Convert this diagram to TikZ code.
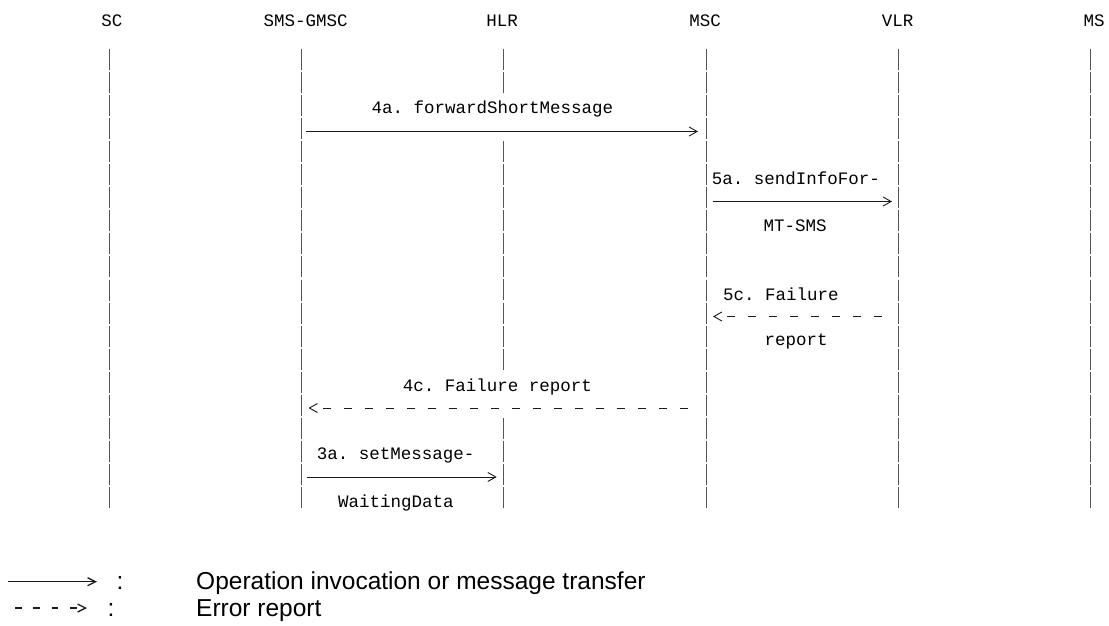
\documentclass[tikz,border=0pt]{standalone}
\usepackage{fontspec}
\setmainfont{Liberation Sans}
\setmonofont{Liberation Mono}
\usetikzlibrary{arrows.meta}
\definecolor{lifegray}{HTML}{555555}
\definecolor{msgblack}{HTML}{1a1a1a}

\begin{document}
\begin{tikzpicture}[x=1pt, y=-1pt,
		entity/.style={font=\ttfamily\fontsize{17.5}{20}\selectfont, inner sep=0pt, anchor=base},
		msgtext/.style={font=\ttfamily\fontsize{17.5}{20}\selectfont, inner sep=0pt, anchor=base},
		legtext/.style={font=\fontsize{24.5}{28}\selectfont, inner sep=0pt, anchor=base west},
		life/.style={color=lifegray, line width=0.9pt, dash pattern=on 21pt off 2.06pt},
		invoke/.style={color=msgblack, line width=0.9pt, -{Straight Barb[length=8pt,width=9pt]}},
		errrep/.style={color=msgblack, line width=0.9pt, dash pattern=on 8pt off 13pt, dash phase=8pt, {Straight Barb[length=8pt,width=9pt]}-}]
		\useasboundingbox (0,0) rectangle (1109,626);
		% entities and their lifelines
		\foreach \name/\lx/\hx/\txt in {SC/109/112/SC, GMSC/301.5/305.6/SMS-GMSC, HLR/503.3/502/HLR, MSC/706.7/705/MSC, VLR/898/897.5/VLR, MS/1090/1094/MS} {
			\node[entity] (\name) at (\hx,27) {\txt};
			\coordinate (\name-a) at (\lx,48.9);
			\coordinate (\name-b) at (\lx,510.1);
		}
		\foreach \name in {SC,GMSC,MSC,VLR,MS}
			\draw[life] (\name-a) -- (\name-b);
		\draw[life] (HLR-a) -- ++(0,46.1);
		\draw[life] (HLR-a) ++(0,92.2) -- ++(0,230.6);
		\draw[life] (HLR-a) ++(0,369) -- (HLR-b);
		% rows of the messages
		\coordinate (r4)  at (0,131.5);
		\coordinate (r7)  at (0,201.5);
		\coordinate (r12) at (0,316.5);
		\coordinate (r16) at (0,408);
		\coordinate (r19) at (0,477);
		% 4a
		\node[msgtext] (m4a) at (492.5,113.5) {4a. forwardShortMessage};
		\draw[invoke, shorten <=4pt, shorten >=8.7pt] (GMSC-a |- r4) -- (MSC-a |- r4);
		% 5a
		\node[msgtext] (m5a) at (796,184.5) {5a. sendInfoFor-};
		\draw[invoke, shorten <=6pt, shorten >=6pt] (MSC-a |- r7) -- (VLR-a |- r7);
		\node[msgtext] (m5b) at (795,231.5) {MT-SMS};
		% 5c
		\node[msgtext] (m5c) at (781,300.5) {5c. Failure};
		\draw[errrep, shorten <=6.3pt, shorten >=16pt] (MSC-a |- r12) -- (VLR-a |- r12);
		\node[msgtext] (m5d) at (796,345.5) {report};
		% 4c
		\node[msgtext] (m4c) at (497.5,391.5) {4c. Failure report};
		\draw[errrep, shorten <=7pt, shorten >=18pt] (GMSC-a |- r16) -- (MSC-a |- r16);
		% 3a
		\node[msgtext] (m3a) at (395.7,459.5) {3a. setMessage-};
		\draw[invoke, shorten <=5pt, shorten >=6.6pt] (GMSC-a |- r19) -- (HLR-a |- r19);
		\node[msgtext] (m3b) at (395.8,507.5) {WaitingData};
		% legend
		\coordinate (leg1a) at (8,581.7);
		\coordinate (leg1b) at (97,581.7);
		\coordinate (leg2a) at (15,608);
		\coordinate (leg2b) at (87,608);
		\draw[color=msgblack, line width=1.3pt, -{Straight Barb[length=8pt,width=8pt]}] (leg1a) -- (leg1b);
		\draw[color=msgblack, line width=1.3pt, dash pattern=on 6.7pt off 11.6pt, -{Straight Barb[length=8pt,width=8pt]}] (leg2a) -- (leg2b);
		\node[legtext, anchor=base] (col1) at (120,589) {:};
		\node[legtext, anchor=base] (col2) at (111,616) {:};
		\node[legtext] (leg1) at (196,589) {Operation invocation or message transfer};
		\node[legtext] (leg2) at (196,616) {Error report};
	\end{tikzpicture}
\end{document}
